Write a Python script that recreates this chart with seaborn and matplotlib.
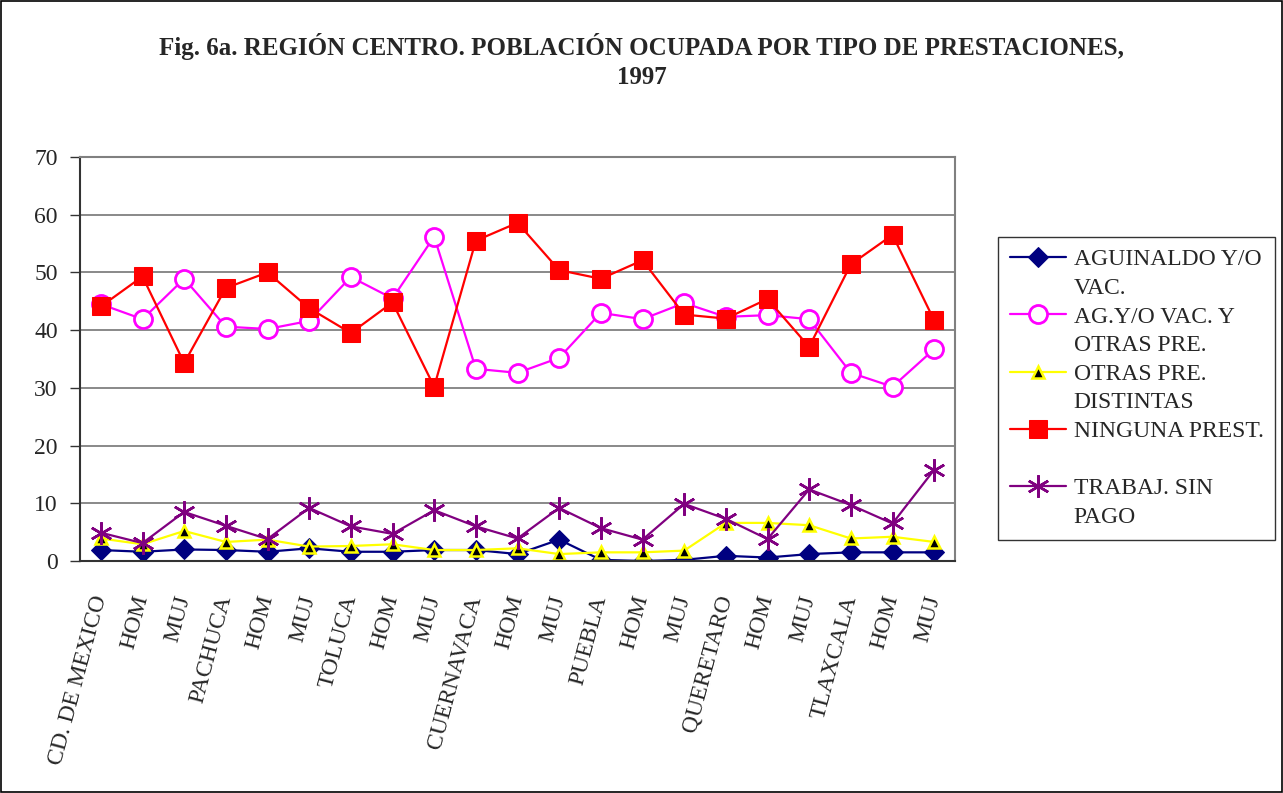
import matplotlib
matplotlib.use("Agg")
import matplotlib.pyplot as plt
from matplotlib.patches import Rectangle
from matplotlib.lines import Line2D
import seaborn as sns
import pandas as pd
import numpy as np

categories = ["CD. DE MEXICO", "HOM", "MUJ", "PACHUCA", "HOM", "MUJ", "TOLUCA", "HOM", "MUJ",
              "CUERNAVACA", "HOM", "MUJ", "PUEBLA", "HOM", "MUJ", "QUERETARO", "HOM", "MUJ",
              "TLAXCALA", "HOM", "MUJ"]

aguinaldo = [1.9, 1.6, 2.0, 1.9, 1.6, 2.2, 1.6, 1.6, 1.9, 1.9, 1.2, 3.7, 0.2, 0.0, 0.2, 0.9, 0.6, 1.2, 1.5, 1.5, 1.5]
ag_otras = [44.5, 41.9, 48.9, 40.6, 40.2, 41.6, 49.2, 45.5, 56.2, 33.3, 32.6, 35.2, 43.0, 41.9, 44.7, 42.3, 42.6, 41.9, 32.6, 30.2, 36.7]
otras_dist = [3.9, 2.9, 5.2, 3.3, 3.7, 2.5, 2.6, 2.9, 1.9, 1.9, 2.2, 1.2, 1.5, 1.5, 1.8, 6.6, 6.6, 6.2, 3.9, 4.2, 3.3]
ninguna = [44.1, 49.3, 34.3, 47.3, 50.0, 43.8, 39.5, 44.8, 30.2, 55.5, 58.6, 50.4, 48.9, 52.1, 42.7, 42.0, 45.4, 37.1, 51.4, 56.5, 41.7]
sin_pago = [4.9, 3.1, 8.5, 6.1, 3.8, 9.2, 6.0, 4.7, 8.8, 6.0, 3.9, 9.2, 5.7, 3.7, 9.9, 7.3, 3.8, 12.4, 9.7, 6.5, 15.8]

series_labels = ["AGUINALDO Y/O\nVAC.", "AG.Y/O VAC. Y\nOTRAS PRE.", "OTRAS PRE.\nDISTINTAS",
                 "NINGUNA PREST.\n", "TRABAJ. SIN\nPAGO"]
yticks = [0, 10, 20, 30, 40, 50, 60, 70]

sns.set_theme(style="white")
plt.rcParams['font.family'] = ['Liberation Serif', 'DejaVu Serif']

fig = plt.figure(figsize=(12.83, 7.93), dpi=100)
ax = fig.add_axes([80/1283, 1-561/793, (955-80)/1283, (561-157)/793])

x = np.arange(len(categories))
styles = [
    dict(color="#000080", marker="D", markersize=10, markerfacecolor="#000080", markeredgecolor="#000080"),
    dict(color="#FF00FF", marker="o", markersize=13, markerfacecolor="white", markeredgecolor="#FF00FF", markeredgewidth=2),
    dict(color="#FFFF00", marker="^", markersize=9, markerfacecolor="black", markeredgecolor="#FFFF00", markeredgewidth=1.8),
    dict(color="#FF0000", marker="s", markersize=13, markerfacecolor="#FF0000", markeredgecolor="#FF0000"),
    dict(color="#800080", marker=(6, 2, 0), markersize=16, markeredgecolor="#800080", markeredgewidth=1.8),
]
data = [aguinaldo, ag_otras, otras_dist, ninguna, sin_pago]
for vals, lab, st in zip(data, series_labels, styles):
    df = pd.DataFrame({"x": x, "y": vals})
    sns.lineplot(data=df, x="x", y="y", ax=ax, label=lab, linewidth=1.6, **st)

ax.set_xlim(-0.5, len(categories) - 0.5)
ax.set_ylim(0, 70)
ax.set_yticks(yticks)
ax.set_yticklabels([str(v) for v in yticks], fontsize=17)
ax.yaxis.grid(True, color="#808080", linewidth=1.3)
ax.xaxis.grid(False)
ax.set_xticks(x)
ax.set_xticklabels(categories, fontsize=17, rotation=75, ha="right", va="center", rotation_mode="anchor")
ax.set_xticks(np.arange(-0.5, len(categories), 1), minor=True)
ax.tick_params(axis="x", which="major", length=0, pad=25)
ax.tick_params(axis="x", which="minor", length=6, width=1, color="#333333", direction="out")
ax.tick_params(axis="y", which="major", length=7, width=1, color="#333333", direction="out", pad=9, left=True)
ax.set_xlabel("")
ax.set_ylabel("")
for s in ["left", "bottom"]:
    ax.spines[s].set_color("#333333")
    ax.spines[s].set_linewidth(1.5)
for s in ["top", "right"]:
    ax.spines[s].set_color("#808080")
    ax.spines[s].set_linewidth(1.5)

# legend: one row per text line, handle on the first line of each entry
handles, labels = ax.get_legend_handles_labels()
leg_h, leg_l = [], []
for h, l in zip(handles, labels):
    lines = l.split("\n")
    leg_h.append(h)
    leg_l.append(lines[0])
    blank = Line2D([], [], linestyle="none", marker=None, alpha=0)
    leg_h.append(blank)
    leg_l.append(lines[1] if len(lines) > 1 else "")
leg = ax.legend(leg_h, leg_l, loc="upper left", bbox_to_anchor=(998/1283, 1-237/793), bbox_transform=fig.transFigure,
                fontsize=17, frameon=True, fancybox=False, handlelength=2.4, labelspacing=0.3,
                borderpad=0.5, handletextpad=0.3, borderaxespad=0)
leg.get_frame().set_edgecolor("black")
leg.get_frame().set_linewidth(1.0)

fig.text(0.5, 1-61/793, "Fig. 6a. REGIÓN CENTRO. POBLACIÓN OCUPADA POR TIPO DE PRESTACIONES,\n1997",
         ha="center", va="center", fontsize=18, fontweight="bold", linespacing=1.35)

fig.add_artist(Rectangle((0.001, 0.001), 0.998, 0.998, transform=fig.transFigure, fill=False,
                         edgecolor="black", linewidth=1.2))

fig.savefig("out.png", dpi=100)
